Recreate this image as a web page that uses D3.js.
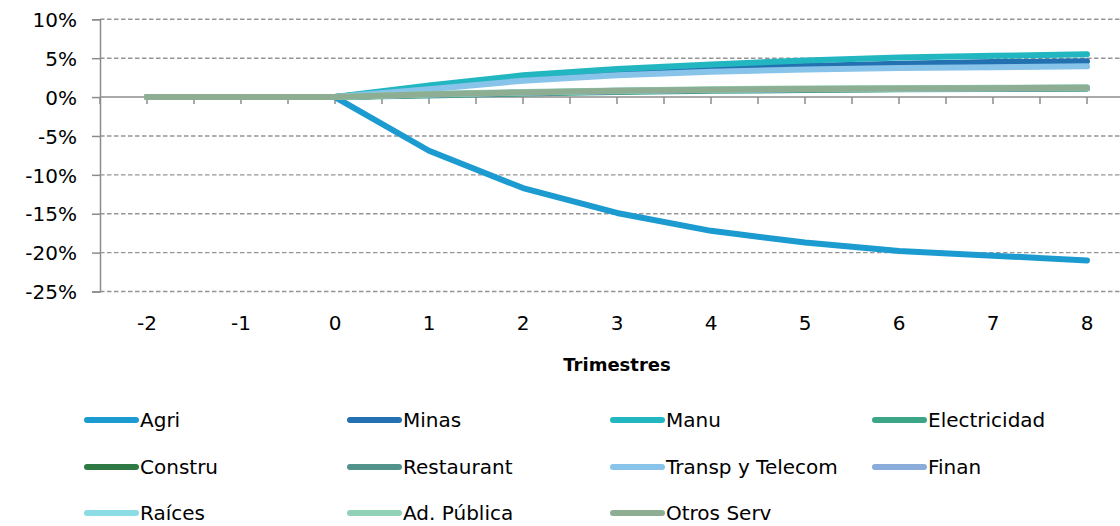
<!DOCTYPE html>
<html>
<head>
<meta charset="utf-8">
<script src="https://cdnjs.cloudflare.com/ajax/libs/d3/7.8.5/d3.min.js"></script>
<style>
  body { margin: 0; background: #fff; }
  text { font-family: "Century Gothic", "DejaVu Sans", sans-serif; fill: #000; }
</style>
</head>
<body>
<div id="chart"></div>
<script>
// data (percent)
var trimestres = [-2, -1, 0, 1, 2, 3, 4, 5, 6, 7, 8]
var yTicks = [10, 5, 0, -5, -10, -15, -20, -25]

var agri        = [0, 0, 0, -6.9, -11.7, -14.9, -17.2, -18.7, -19.8, -20.4, -21.0]
var minas       = [0, 0, 0, 1.2, 2.4, 3.1, 3.7, 4.0, 4.3, 4.5, 4.6]
var manu        = [0, 0, 0, 1.5, 2.8, 3.6, 4.2, 4.7, 5.1, 5.3, 5.5]
var electricidad= [0, 0, 0, 0.2, 0.45, 0.65, 0.8, 0.9, 1.0, 1.05, 1.1]
var constru     = [0, 0, 0, 0.3, 0.55, 0.75, 0.9, 1.0, 1.05, 1.1, 1.15]
var restaurant  = [0, 0, 0, 0.3, 0.55, 0.75, 0.9, 1.0, 1.05, 1.1, 1.15]
var transp      = [0, 0, 0, 1.0, 2.1, 2.8, 3.25, 3.55, 3.75, 3.85, 3.95]
var finan       = [0, 0, 0, 0.3, 0.55, 0.75, 0.9, 1.0, 1.05, 1.1, 1.15]
var raices      = [0, 0, 0, 0.35, 0.6, 0.8, 0.95, 1.05, 1.1, 1.15, 1.2]
var adPublica   = [0, 0, 0, 0.4, 0.65, 0.85, 1.0, 1.1, 1.15, 1.2, 1.25]
var otrosServ   = [0, 0, 0, 0.35, 0.6, 0.8, 0.95, 1.05, 1.1, 1.15, 1.2]

var seriesNames = ["Agri", "Minas", "Manu", "Electricidad", "Constru", "Restaurant",
                   "Transp y Telecom", "Finan", "Raíces", "Ad. Pública", "Otros Serv"]
var seriesValues = [agri, minas, manu, electricidad, constru, restaurant,
                    transp, finan, raices, adPublica, otrosServ]
var colors = ["#1b9bd0", "#2371b0", "#22b6c0", "#3ba586", "#2f7a44", "#53928a",
              "#88c3ea", "#8aacda", "#8cdce6", "#90d1b8", "#8dae92"]

var W = 1120, H = 526

var svg = d3.select("#chart").append("svg")
    .attr("width", W).attr("height", H)

var x = d3.scalePoint()
    .domain(trimestres)
    .range([100, 1134])
    .padding(0.5)

var y = d3.scaleLinear()
    .domain([-25, 10])
    .range([291.5, 19.3])

// gridlines
svg.append("g")
    .selectAll("line")
    .data(yTicks.filter(d => d !== 0))
    .enter().append("line")
    .attr("x1", 100).attr("x2", W)
    .attr("y1", d => y(d)).attr("y2", d => y(d))
    .attr("stroke", "#959595")
    .attr("stroke-width", 1.4)
    .attr("stroke-dasharray", "4.5,2.5")

// y axis
var yAxis = svg.append("g")
    .attr("transform", "translate(100,0)")
    .call(d3.axisLeft(y).tickValues(yTicks).tickSize(8).tickFormat(d => d + "%"))
yAxis.select(".domain").attr("stroke", "#8c8c8c").attr("stroke-width", 1.5)
yAxis.selectAll(".tick line").attr("stroke", "#8c8c8c").attr("stroke-width", 1.5)
yAxis.selectAll(".tick text")
    .attr("x", -23)
    .attr("dy", "0.36em")
    .style("font-size", "20px")
    .style("font-family", "'Century Gothic', 'DejaVu Sans', sans-serif")
    .attr("fill", "#000")

// x axis on zero line, ticks at points and between
var step = x.step()
var tickPos = []
trimestres.forEach(function (t) {
    tickPos.push(x(t) - step / 2)
    tickPos.push(x(t))
})
tickPos.push(x(trimestres[trimestres.length - 1]) + step / 2)
tickPos = tickPos.filter(p => p <= W)

svg.append("line")
    .attr("x1", 100).attr("x2", W)
    .attr("y1", y(0)).attr("y2", y(0))
    .attr("stroke", "#8c8c8c")
    .attr("stroke-width", 1.5)

svg.append("g")
    .selectAll("line")
    .data(tickPos)
    .enter().append("line")
    .attr("x1", d => d).attr("x2", d => d)
    .attr("y1", y(0)).attr("y2", y(0) + 7)
    .attr("stroke", "#8c8c8c")
    .attr("stroke-width", 1.5)

svg.append("g")
    .selectAll("text")
    .data(trimestres)
    .enter().append("text")
    .attr("x", d => x(d))
    .attr("y", 330)
    .attr("text-anchor", "middle")
    .style("font-size", "20px")
    .text(d => d)

svg.append("text")
    .attr("x", 617)
    .attr("y", 371)
    .attr("text-anchor", "middle")
    .style("font-size", "18px")
    .style("font-weight", "bold")
    .text("Trimestres")

// lines
var line = d3.line()
    .x((d, i) => x(trimestres[i]))
    .y(d => y(d))

svg.append("g")
    .selectAll("path")
    .data(seriesValues)
    .enter().append("path")
    .attr("d", d => line(d))
    .attr("fill", "none")
    .attr("stroke", (d, i) => colors[i])
    .attr("stroke-width", 6)
    .attr("stroke-linecap", "round")
    .attr("stroke-linejoin", "round")

// legend
var colX = [84, 347, 610, 872]
var rowY = [420, 467, 513]

var legend = svg.append("g")
    .selectAll("g")
    .data(seriesNames)
    .enter().append("g")
    .attr("transform", (d, i) => "translate(" + colX[i % 4] + "," + rowY[Math.floor(i / 4)] + ")")

legend.append("line")
    .attr("x1", 3).attr("x2", 52)
    .attr("y1", 0).attr("y2", 0)
    .attr("stroke", (d, i) => colors[i])
    .attr("stroke-width", 6)
    .attr("stroke-linecap", "round")

legend.append("text")
    .attr("x", 56)
    .attr("y", 7)
    .style("font-size", "20px")
    .text(d => d)
</script>
</body>
</html>
